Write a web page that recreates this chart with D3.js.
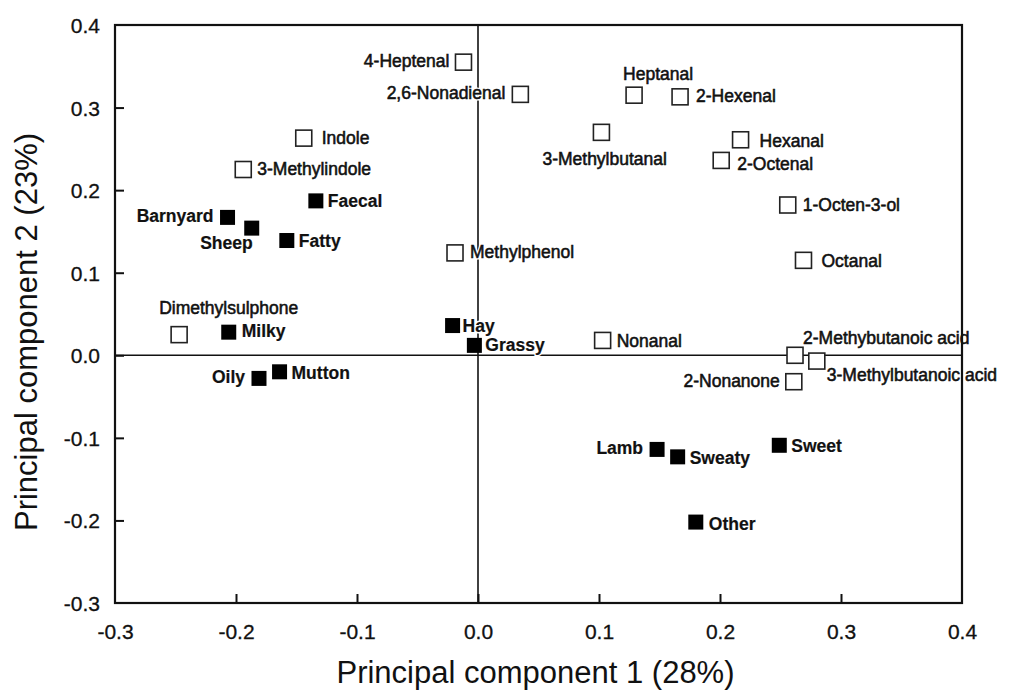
<!DOCTYPE html>
<html>
<head>
<meta charset="utf-8">
<script src="https://cdn.jsdelivr.net/npm/d3@7"></script>
<style>
  body { margin: 0; background: #fff; }
  svg { display: block; font-family: "Liberation Sans", Arial, sans-serif; }
</style>
</head>
<body>
<svg id="chart" width="1011" height="692"></svg>
<script>
// ---- Data ----
const compoundNames = ["4-Heptenal","2,6-Nonadienal","Indole","3-Methylindole","Methylphenol","Dimethylsulphone",
  "Heptanal","2-Hexenal","3-Methylbutanal","Hexanal","2-Octenal","1-Octen-3-ol","Octanal","Nonanal",
  "2-Methybutanoic acid","3-Methylbutanoic acid","2-Nonanone"];
const compoundPC1 = [-0.012, 0.035, -0.144, -0.194, -0.019, -0.247, 0.129, 0.167, 0.102, 0.217, 0.201, 0.256, 0.269, 0.103, 0.262, 0.280, 0.261];
const compoundPC2 = [0.355, 0.316, 0.263, 0.225, 0.124, 0.025, 0.315, 0.313, 0.270, 0.261, 0.236, 0.182, 0.115, 0.018, 0.000, -0.007, -0.032];

const attributeNames = ["Barnyard","Sheep","Faecal","Fatty","Milky","Hay","Grassy","Oily","Mutton","Lamb","Sweaty","Sweet","Other"];
const attributePC1 = [-0.207, -0.187, -0.134, -0.158, -0.206, -0.021, -0.003, -0.181, -0.164, 0.148, 0.165, 0.249, 0.180];
const attributePC2 = [0.167, 0.154, 0.187, 0.139, 0.028, 0.036, 0.012, -0.028, -0.020, -0.114, -0.123, -0.109, -0.202];

const xTicks = [-0.3, -0.2, -0.1, 0.0, 0.1, 0.2, 0.3, 0.4];
const yTicks = [-0.3, -0.2, -0.1, 0.0, 0.1, 0.2, 0.3, 0.4];

// ---- Label placement (layout, px offsets from marker centre) ----
const compoundLabelPos = [
  ["end",-14,5],["end",-15,5],["start",18,6],["start",14,5],["start",15,5],["start",-20,-21],
  ["start",-11,-15],["start",16,5],["start",-59,33],["start",19,7],["start",16,10],["start",15,6],
  ["start",18,7],["start",14,7],["start",8,-11],["start",10,20],["end",-14,5]
];
const attributeLabelPos = [
  ["end",-14,5],["end",1,21],["start",12,6],["start",12,6],["start",13,5],["start",10,6],
  ["start",11,6],["end",-14,5],["start",12,7],["end",-14,5],["start",12,7],["start",12,7],["start",13,8]
];

// ---- Layout ----
const svg = d3.select("#chart");
const mL = 115, mR = 962, mT = 25, mB = 603;
const x = d3.scaleLinear().domain([-0.3, 0.4]).range([mL, mR]);
const y = d3.scaleLinear().domain([-0.3, 0.4]).range([mB, mT]);

// zero lines
svg.append("line").attr("x1", mL).attr("x2", mR).attr("y1", y(0)).attr("y2", y(0))
  .attr("stroke", "#111").attr("stroke-width", 1.6);
svg.append("line").attr("x1", x(0)).attr("x2", x(0)).attr("y1", mT).attr("y2", mB)
  .attr("stroke", "#111").attr("stroke-width", 1.6);

const comp = compoundNames.map((n, i) => ({name: n, px: compoundPC1[i], py: compoundPC2[i], lp: compoundLabelPos[i]}));
const attr = attributeNames.map((n, i) => ({name: n, px: attributePC1[i], py: attributePC2[i], lp: attributeLabelPos[i]}));

// open squares (compounds)
const os = 16;
svg.append("g").selectAll("rect").data(comp).join("rect")
  .attr("x", d => x(d.px) - os / 2).attr("y", d => y(d.py) - os / 2)
  .attr("width", os).attr("height", os)
  .attr("fill", "#fff").attr("stroke", "#222").attr("stroke-width", 1.6);

// filled squares (attributes)
const fs = 15;
svg.append("g").selectAll("rect").data(attr).join("rect")
  .attr("x", d => x(d.px) - fs / 2).attr("y", d => y(d.py) - fs / 2)
  .attr("width", fs).attr("height", fs).attr("fill", "#000");

// labels: white halo layer then text layer
function labels(data, weight, sw) {
  const g = svg.append("g");
  g.selectAll("text.halo").data(data).join("text").attr("class", "halo")
    .attr("x", d => x(d.px) + d.lp[1]).attr("y", d => y(d.py) + d.lp[2])
    .attr("text-anchor", d => d.lp[0])
    .attr("font-size", 17.5).attr("font-weight", weight)
    .attr("fill", "#fff").attr("stroke", "#fff").attr("stroke-width", 3)
    .text(d => d.name);
  g.selectAll("text.lbl").data(data).join("text").attr("class", "lbl")
    .attr("x", d => x(d.px) + d.lp[1]).attr("y", d => y(d.py) + d.lp[2])
    .attr("text-anchor", d => d.lp[0])
    .attr("font-size", 17.5).attr("font-weight", weight)
    .attr("fill", "#111").attr("stroke", "#111").attr("stroke-width", sw)
    .text(d => d.name);
}
labels(comp, "normal", 0.55);
labels(attr, "bold", 0.2);

// axes
const fmt = v => d3.format(".1f")(v).replace("\u2212", "-");
const gx = svg.append("g").attr("transform", `translate(0,${mB})`)
  .call(d3.axisBottom(x).tickValues(xTicks).tickFormat(fmt).tickSizeInner(-9).tickSizeOuter(0).tickPadding(21));
const gy = svg.append("g").attr("transform", `translate(${mL},0)`)
  .call(d3.axisLeft(y).tickValues(yTicks).tickFormat(fmt).tickSizeInner(-9).tickSizeOuter(0).tickPadding(15));
[gx, gy].forEach(g => {
  g.select(".domain").remove();
  g.selectAll(".tick line").attr("stroke", "#111").attr("stroke-width", 2);
  g.selectAll(".tick text").attr("fill", "#111").attr("font-size", 21)
    .attr("stroke", "#111").attr("stroke-width", 0.3)
    .attr("font-family", "Liberation Sans, Arial, sans-serif");
});
gx.selectAll(".tick").filter(d => d === -0.3 || d === 0.4).select("line").remove();
gy.selectAll(".tick").filter(d => d === -0.3 || d === 0.4).select("line").remove();
gy.selectAll(".tick text").attr("dy", "0.36em");

// frame (drawn over labels, as in the original)
svg.append("rect").attr("x", mL).attr("y", mT).attr("width", mR - mL).attr("height", mB - mT)
  .attr("fill", "none").attr("stroke", "#111").attr("stroke-width", 2.2);

// axis titles
svg.append("text").attr("x", (mL + mR) / 2 - 3).attr("y", 683)
  .attr("text-anchor", "middle").attr("font-size", 31).attr("fill", "#111")
  .text("Principal component 1 (28%)");
svg.append("text").attr("transform", `translate(37,${332}) rotate(-90)`)
  .attr("text-anchor", "middle").attr("font-size", 31).attr("fill", "#111")
  .text("Principal component 2 (23%)");
</script>
</body>
</html>
